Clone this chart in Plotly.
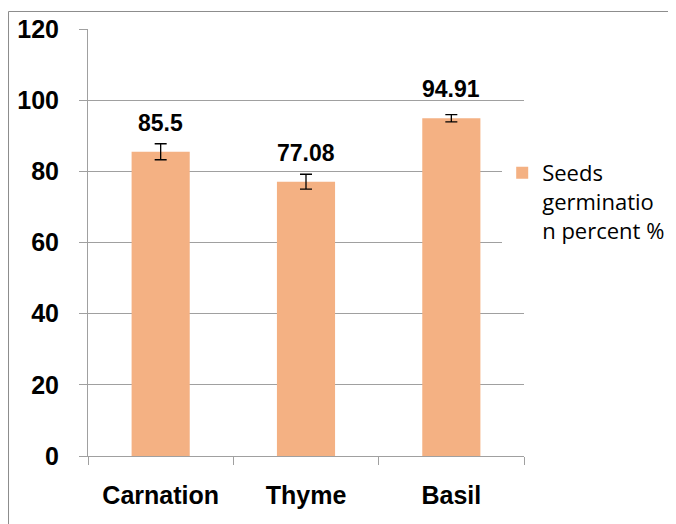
import plotly.graph_objects as go

categories = ["Carnation", "Thyme", "Basil"]
values = [85.5, 77.08, 94.91]
errors = [2.25, 2.1, 1.0]
labels = ["85.5", "77.08", "94.91"]
y_ticks = [0, 20, 40, 60, 80, 100, 120]
series_name = "Seeds<br>germinatio<br>n percent %"

BAR = "#F4B183"
GRID = "#A0A0A0"
FONT = "Liberation Sans, Arial"

fig = go.Figure()
fig.add_trace(go.Bar(
    x=categories, y=values, name=series_name,
    marker=dict(color=BAR, line=dict(width=0)),
    width=0.4,
    error_y=dict(type="data", array=errors, visible=True,
                 color="black", thickness=1.3, width=6),
    showlegend=True,
))

for c, v, t in zip(categories, values, labels):
    fig.add_annotation(x=c, y=v, text="<b>%s</b>" % t, showarrow=False,
                       yanchor="middle", yshift=29,
                       font=dict(family=FONT, size=23, color="black"))

# outer chart frame
fig.add_shape(type="rect", xref="paper", yref="paper",
              x0=-0.1823, x1=1.5, y0=-0.3, y1=1.041,
              line=dict(color="#8C8C8C", width=1), fillcolor="rgba(0,0,0,0)",
              layer="below")

fig.update_layout(
    width=676, height=524,
    margin=dict(l=80, r=160, t=21, b=76, pad=0),
    paper_bgcolor="white", plot_bgcolor="white",
    font=dict(family=FONT, color="black"),
    showlegend=True,
    legend=dict(x=0.95, xanchor="left", y=0.712, yanchor="top",
                bgcolor="white", valign="top",
                font=dict(family="Open Sans", size=22, color="black"),
                itemwidth=30),
    xaxis=dict(type="category", tickson="boundaries", ticks="outside", ticklen=8,
               tickcolor=GRID, showline=True, linecolor=GRID, linewidth=1,
               showgrid=False, automargin=False,
               tickfont=dict(size=25, family=FONT),
               tickvals=categories,
               ticktext=["<b>%s</b>" % c for c in categories],
               ticklabelstandoff=17),
    yaxis=dict(range=[0, 120], tickvals=y_ticks,
               ticktext=["<b>%d</b>" % v for v in y_ticks],
               ticks="outside", ticklen=8, automargin=False,
               tickcolor=GRID, showline=True, linecolor=GRID, linewidth=1,
               showgrid=True, gridcolor=GRID, gridwidth=1, zeroline=False,
               tickfont=dict(size=25, family=FONT),
               ticklabelstandoff=15),
)

fig.write_html("out.html")
